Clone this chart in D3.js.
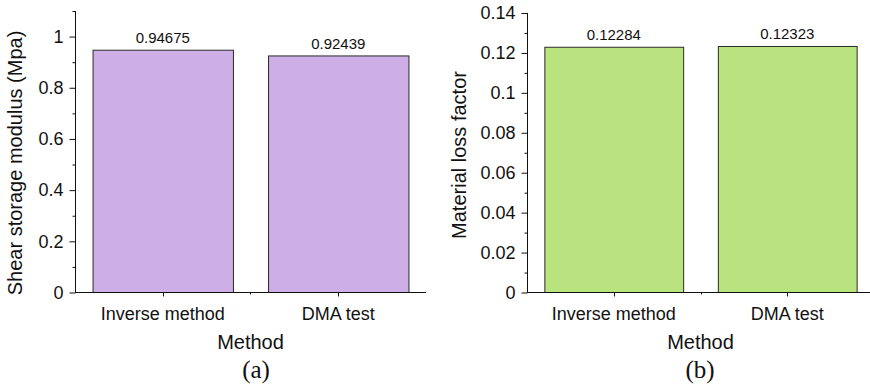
<!DOCTYPE html>
<html>
<head>
<meta charset="utf-8">
<script src="https://cdn.jsdelivr.net/npm/d3@7"></script>
<style>
  html, body { margin: 0; padding: 0; background: #fff; }
  svg { display: block; }
  text { font-family: "Liberation Sans", Arial, sans-serif; fill: #111; }
</style>
</head>
<body>
<svg id="fig" width="870" height="388"></svg>
<script>
// Categories shared by both panels
const methods = ["Inverse method", "DMA test"];

// Panel (a): shear storage modulus
const modulusValues = [0.94675, 0.92439];
const modulusLabels = ["0.94675", "0.92439"];
const modulusTicks = [0, 0.2, 0.4, 0.6, 0.8, 1];
const modulusTickLabels = ["0", "0.2", "0.4", "0.6", "0.8", "1"];
const modulusMinor = [0.1, 0.3, 0.5, 0.7, 0.9, 1.1];

// Panel (b): material loss factor
const lossValues = [0.12284, 0.12323];
const lossLabels = ["0.12284", "0.12323"];
const lossTicks = [0, 0.02, 0.04, 0.06, 0.08, 0.1, 0.12, 0.14];
const lossTickLabels = ["0", "0.02", "0.04", "0.06", "0.08", "0.1", "0.12", "0.14"];
const lossMinor = [0.01, 0.03, 0.05, 0.07, 0.09, 0.11, 0.13];

const svg = d3.select("#fig");

function panel(opts) {
  const g = svg.append("g");
  const bottom = 292.5;

  const x = d3.scaleBand()
    .domain(methods)
    .range([opts.left, opts.right])
    .paddingInner(0.2)
    .paddingOuter(0.1);

  const y = d3.scaleLinear()
    .domain(opts.domain)
    .range([bottom, opts.top]);

  // bars
  g.selectAll("rect.bar")
    .data(opts.values)
    .join("rect")
    .attr("class", "bar")
    .attr("x", (d, i) => x(methods[i]) + 0.5)
    .attr("width", x.bandwidth())
    .attr("y", d => y(d))
    .attr("height", d => bottom - y(d))
    .attr("fill", opts.color)
    .attr("stroke", "#2b2b2b")
    .attr("stroke-width", 1);

  // value labels
  g.selectAll("text.val")
    .data(opts.values)
    .join("text")
    .attr("class", "val")
    .attr("x", (d, i) => x(methods[i]) + x.bandwidth() / 2)
    .attr("y", d => y(d) - 7)
    .attr("text-anchor", "middle")
    .attr("font-size", 15)
    .text((d, i) => opts.labels[i]);

  // y axis: major ticks with labels
  const yAxis = d3.axisLeft(y)
    .tickValues(opts.ticks)
    .tickFormat((d, i) => opts.tickLabels[i])
    .tickSize(6)
    .tickSizeOuter(0)
    .tickPadding(6);
  const ya = g.append("g")
    .attr("transform", `translate(${opts.left + 0.5},0)`)
    .call(yAxis);
  ya.select(".domain").attr("stroke", "#111").attr("d", `M0,${opts.top}V${bottom}`);
  ya.selectAll(".tick line").attr("stroke", "#111");
  ya.selectAll(".tick text")
    .attr("font-size", 18)
    .attr("font-family", "Liberation Sans, Arial, sans-serif")
    .attr("fill", "#111");

  // y axis: minor ticks
  const ym = g.append("g")
    .attr("transform", `translate(${opts.left + 0.5},0)`)
    .call(d3.axisLeft(y).tickValues(opts.minor).tickSize(3).tickSizeOuter(0).tickFormat(""));
  ym.select(".domain").remove();
  ym.selectAll(".tick line").attr("stroke", "#111");

  // x axis line
  g.append("line")
    .attr("x1", opts.left)
    .attr("x2", opts.right)
    .attr("y1", bottom)
    .attr("y2", bottom)
    .attr("stroke", "#111");

  // x axis major ticks at category centres
  g.selectAll("line.xmaj")
    .data(methods)
    .join("line")
    .attr("class", "xmaj")
    .attr("x1", d => Math.round(x(d) + x.bandwidth() / 2) + 0.5)
    .attr("x2", d => Math.round(x(d) + x.bandwidth() / 2) + 0.5)
    .attr("y1", bottom)
    .attr("y2", bottom + 4)
    .attr("stroke", "#111");

  // x axis minor tick between categories
  const mid = (x(methods[0]) + x.bandwidth() + x(methods[1])) / 2;
  g.append("line")
    .attr("x1", Math.round(mid) + 0.5)
    .attr("x2", Math.round(mid) + 0.5)
    .attr("y1", bottom)
    .attr("y2", bottom + 2)
    .attr("stroke", "#111");

  // category labels
  g.selectAll("text.cat")
    .data(methods)
    .join("text")
    .attr("class", "cat")
    .attr("x", d => x(d) + x.bandwidth() / 2)
    .attr("y", 319.5)
    .attr("text-anchor", "middle")
    .attr("font-size", 18)
    .text(d => d);

  // x axis title
  const cx = (opts.left + opts.right) / 2;
  g.append("text")
    .attr("x", cx)
    .attr("y", 348.5)
    .attr("text-anchor", "middle")
    .attr("font-size", 20)
    .text("Method");

  // y axis title
  g.append("text")
    .attr("transform", `translate(${opts.titleX},${opts.titleY}) rotate(-90)`)
    .attr("text-anchor", "middle")
    .attr("font-size", 20)
    .text(opts.yTitle);

  // panel caption
  g.append("text")
    .attr("x", opts.captionX)
    .attr("y", 378)
    .attr("text-anchor", "middle")
    .attr("font-size", 25)
    .style("font-family", "'Liberation Serif', 'Times New Roman', serif")
    .text(opts.caption);
}

panel({
  left: 75, right: 426, top: 11,
  domain: [0, 1.1],
  values: modulusValues, labels: modulusLabels,
  ticks: modulusTicks, tickLabels: modulusTickLabels, minor: modulusMinor,
  color: "#ceaee6",
  yTitle: "Shear storage modulus (Mpa)", titleX: 21.5, titleY: 163,
  caption: "(a)", captionX: 256
});

panel({
  left: 527, right: 874, top: 13,
  domain: [0, 0.14],
  values: lossValues, labels: lossLabels,
  ticks: lossTicks, tickLabels: lossTickLabels, minor: lossMinor,
  color: "#b9e37e",
  yTitle: "Material loss factor", titleX: 466, titleY: 155,
  caption: "(b)", captionX: 700
});
</script>
</body>
</html>
